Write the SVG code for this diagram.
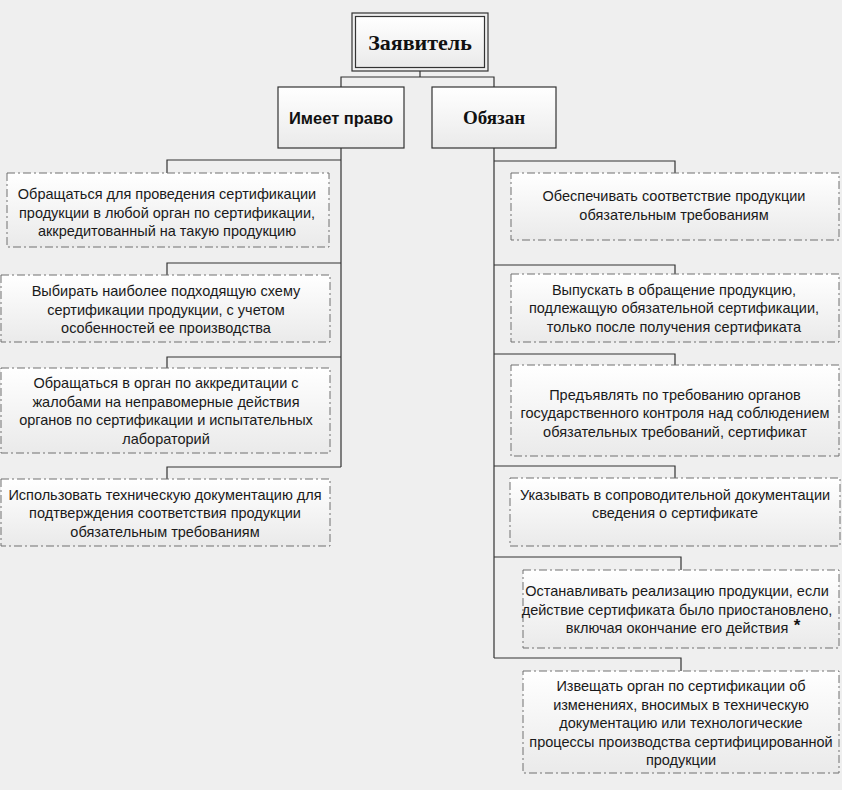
<svg xmlns="http://www.w3.org/2000/svg" width="842" height="790" viewBox="0 0 842 790">
<defs>
<linearGradient id="g" x1="0" y1="0" x2="0" y2="1">
<stop offset="0" stop-color="#ffffff"/>
<stop offset="1" stop-color="#eaeaea"/>
</linearGradient>
<style>
.item{fill:url(#g);stroke:#707070;stroke-width:1;stroke-dasharray:8 3 2 3}
.head{fill:url(#g);stroke:#333;stroke-width:1.2}
.t{font-family:"Liberation Sans",Arial,sans-serif;font-size:14.5px;fill:#1a1a1a;text-anchor:middle}
.conn{fill:none;stroke:#333;stroke-width:1.2}
</style>
</defs>
<rect width="842" height="790" fill="#efefef"/>
<g id="connectors" class="conn">
<path d="M420 71V77M341 87V77H494V87"/>
<path d="M341 148V467M341 160H167V173M341 263H167V275M341 357H167V368M341 467H167V479"/>
<path d="M494 148V658M494 161H675V173M494 265H675V274M494 354H675V365M494 466H675V478M494 557H681V570M494 658H681V671"/>
</g>
<g id="zayavitel">
<rect x="352" y="13" width="136" height="58" fill="none" stroke="#333" stroke-width="1.2"/>
<rect x="355.5" y="16.5" width="129" height="51" class="head"/>
<text x="420" y="50" style="font-family:'Liberation Serif','Times New Roman',serif;font-weight:bold;font-size:22px;text-anchor:middle;fill:#111">Заявитель</text>
</g>
<g id="imeet">
<rect x="278" y="87" width="126" height="61" class="head"/>
<text x="341" y="124" style="font-family:'Liberation Sans',Arial,sans-serif;font-weight:bold;font-size:16.5px;text-anchor:middle;fill:#111">Имеет право</text>
</g>
<g id="obyazan">
<rect x="432" y="87" width="124" height="61" class="head"/>
<text x="494" y="124" style="font-family:'Liberation Serif','Times New Roman',serif;font-weight:bold;font-size:19px;text-anchor:middle;fill:#111">Обязан</text>
</g>
<g id="l1">
<rect x="7" y="173" width="322" height="74" class="item"/>
<text class="t"><tspan x="167" y="199">Обращаться для проведения сертификации</tspan><tspan x="167" y="217.5">продукции в любой орган по сертификации,</tspan><tspan x="167" y="236">аккредитованный на такую продукцию</tspan></text>
</g>
<g id="l2">
<rect x="1" y="275" width="329" height="67" class="item"/>
<text class="t"><tspan x="166" y="296">Выбирать наиболее подходящую схему</tspan><tspan x="166" y="314.5">сертификации продукции, с учетом</tspan><tspan x="166" y="333">особенностей ее производства</tspan></text>
</g>
<g id="l3">
<rect x="1" y="368" width="329" height="85" class="item"/>
<text class="t"><tspan x="166" y="388">Обращаться в орган по аккредитации с</tspan><tspan x="166" y="406.5">жалобами на неправомерные действия</tspan><tspan x="166" y="425">органов по сертификации и испытательных</tspan><tspan x="166" y="443.5">лабораторий</tspan></text>
</g>
<g id="l4">
<rect x="1" y="479" width="329" height="67" class="item"/>
<text class="t"><tspan x="165" y="499.5">Использовать техническую документацию для</tspan><tspan x="165" y="518">подтверждения соответствия продукции</tspan><tspan x="165" y="536.5">обязательным требованиям</tspan></text>
</g>
<g id="r1">
<rect x="511" y="173" width="328" height="67" class="item"/>
<text class="t"><tspan x="674" y="201">Обеспечивать соответствие продукции</tspan><tspan x="674" y="219.5">обязательным требованиям</tspan></text>
</g>
<g id="r2">
<rect x="511" y="274" width="328" height="68" class="item"/>
<text class="t"><tspan x="674" y="294.5">Выпускать в обращение продукцию,</tspan><tspan x="674" y="313">подлежащую обязательной сертификации,</tspan><tspan x="674" y="331.5">только после получения сертификата</tspan></text>
</g>
<g id="r3">
<rect x="511" y="365" width="328" height="91" class="item"/>
<text class="t"><tspan x="675" y="399.5">Предъявлять по требованию органов</tspan><tspan x="675" y="418">государственного контроля над соблюдением</tspan><tspan x="675" y="436.5">обязательных требований, сертификат</tspan></text>
</g>
<g id="r4">
<rect x="510" y="478" width="330" height="68" class="item"/>
<text class="t"><tspan x="675" y="499.5">Указывать в сопроводительной документации</tspan><tspan x="675" y="518">сведения о сертификате</tspan></text>
</g>
<g id="r5">
<rect x="523" y="570" width="316" height="78" class="item"/>
<text class="t"><tspan x="677" y="596">Останавливать реализацию продукции, если</tspan><tspan x="677" y="614.5">действие сертификата было приостановлено,</tspan><tspan x="677" y="633">включая окончание его действия</tspan></text>
<text x="797" y="631" style="font-family:'Liberation Sans',Arial,sans-serif;font-weight:bold;font-size:17px;text-anchor:middle;fill:#111">*</text>
</g>
<g id="r6">
<rect x="523" y="671" width="316" height="102" class="item"/>
<text class="t"><tspan x="681" y="691">Извещать орган по сертификации об</tspan><tspan x="681" y="709.5">изменениях, вносимых в техническую</tspan><tspan x="681" y="728">документацию или технологические</tspan><tspan x="681" y="746.5">процессы производства сертифицированной</tspan><tspan x="681" y="765">продукции</tspan></text>
</g>
</svg>
